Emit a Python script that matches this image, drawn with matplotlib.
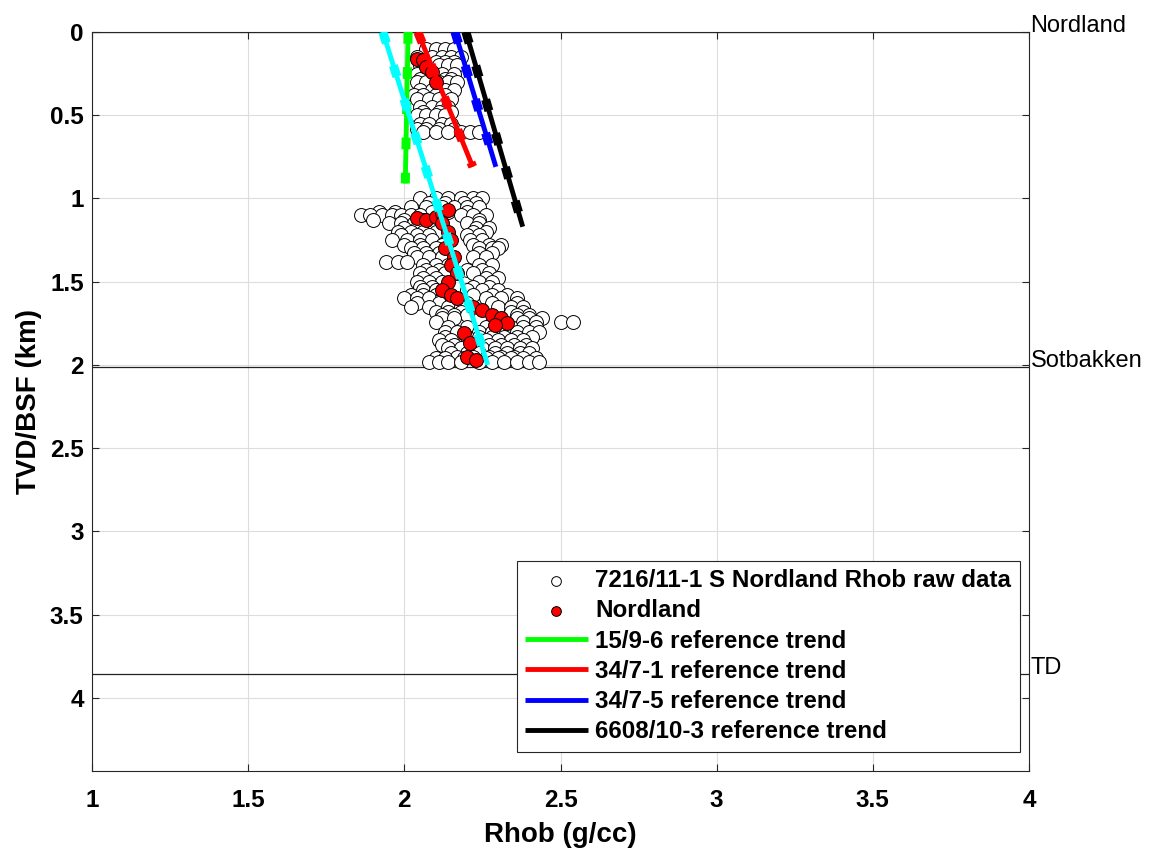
import matplotlib
matplotlib.use("Agg")
import matplotlib.pyplot as plt
from matplotlib.ticker import FuncFormatter, MultipleLocator

plt.rcParams["font.family"] = ["Liberation Sans", "DejaVu Sans"]

# 生データ (深度ごとの Rhob 読み取り値)
raw_rows = [
    (0.10, [2.07, 2.10, 2.13, 2.16]),
    (0.15, [2.04, 2.09, 2.12, 2.15, 2.18]),
    (0.18, [2.06, 2.10, 2.13, 2.16]),
    (0.20, [2.05, 2.11, 2.14, 2.17]),
    (0.25, [2.04, 2.08, 2.12, 2.16]),
    (0.28, [2.05, 2.09, 2.13, 2.15]),
    (0.30, [2.04, 2.07, 2.11, 2.14, 2.17]),
    (0.35, [2.05, 2.09, 2.13, 2.16]),
    (0.38, [2.03, 2.06, 2.10, 2.13]),
    (0.40, [2.04, 2.08, 2.11, 2.15]),
    (0.45, [2.05, 2.09, 2.12, 2.14]),
    (0.48, [2.06, 2.11, 2.15]),
    (0.50, [2.04, 2.07, 2.10, 2.13]),
    (0.55, [2.05, 2.08, 2.12, 2.15]),
    (0.58, [2.04, 2.07, 2.11, 2.16]),
    (0.60, [2.06, 2.10, 2.14, 2.18, 2.21, 2.24]),
    (1.00, [2.05, 2.10, 2.14, 2.18, 2.22, 2.25]),
    (1.03, [2.08, 2.13, 2.19, 2.23]),
    (1.05, [2.02, 2.07, 2.12, 2.16, 2.20, 2.24]),
    (1.08, [1.92, 1.97, 2.09, 2.14, 2.20]),
    (1.10, [1.86, 1.89, 1.93, 1.96, 1.99, 2.02, 2.05, 2.18, 2.22, 2.26]),
    (1.13, [1.90, 2.00, 2.06, 2.24]),
    (1.15, [1.95, 1.99, 2.03, 2.08, 2.20, 2.24]),
    (1.18, [2.00, 2.04, 2.09, 2.23, 2.27]),
    (1.20, [1.98, 2.02, 2.06, 2.10, 2.22, 2.26]),
    (1.22, [1.99, 2.04, 2.08, 2.20, 2.24]),
    (1.25, [1.96, 2.01, 2.05, 2.09, 2.14, 2.21, 2.25]),
    (1.28, [2.00, 2.05, 2.12, 2.22, 2.27, 2.31]),
    (1.30, [2.02, 2.06, 2.10, 2.24, 2.28, 2.30]),
    (1.33, [2.03, 2.07, 2.11, 2.24, 2.28]),
    (1.35, [2.04, 2.08, 2.12, 2.22, 2.26]),
    (1.38, [1.94, 1.98, 2.01]),
    (1.40, [2.06, 2.10, 2.14, 2.24, 2.28]),
    (1.43, [2.07, 2.11, 2.20, 2.25]),
    (1.45, [2.05, 2.09, 2.13, 2.22, 2.27]),
    (1.48, [2.06, 2.10, 2.26, 2.30]),
    (1.50, [2.04, 2.08, 2.12, 2.24, 2.28]),
    (1.53, [2.05, 2.09, 2.22, 2.27]),
    (1.55, [2.06, 2.10, 2.20, 2.25, 2.30]),
    (1.58, [2.02, 2.06, 2.10, 2.22, 2.28, 2.33]),
    (1.60, [2.00, 2.04, 2.08, 2.12, 2.26, 2.31, 2.36]),
    (1.63, [2.04, 2.11, 2.16, 2.20, 2.28, 2.36]),
    (1.65, [2.02, 2.08, 2.14, 2.18, 2.30, 2.34, 2.38]),
    (1.68, [2.10, 2.14, 2.18, 2.34, 2.38]),
    (1.70, [2.12, 2.16, 2.20, 2.36, 2.40]),
    (1.72, [2.12, 2.16, 2.36, 2.40, 2.44]),
    (1.74, [2.10, 2.38, 2.42, 2.50, 2.54]),
    (1.77, [2.14, 2.20, 2.26, 2.34, 2.38, 2.42]),
    (1.80, [2.13, 2.17, 2.24, 2.28, 2.32, 2.36, 2.40, 2.43]),
    (1.83, [2.13, 2.20, 2.24, 2.28, 2.32, 2.36, 2.41]),
    (1.85, [2.11, 2.15, 2.26, 2.30, 2.34, 2.38]),
    (1.88, [2.12, 2.16, 2.23, 2.27, 2.31, 2.35, 2.39]),
    (1.90, [2.14, 2.18, 2.25, 2.29, 2.33, 2.37, 2.41]),
    (1.93, [2.15, 2.20, 2.24, 2.29, 2.33, 2.37, 2.40]),
    (1.95, [2.17, 2.22, 2.27, 2.31, 2.35]),
    (1.96, [2.10, 2.13, 2.19, 2.26, 2.30, 2.34, 2.38, 2.42]),
    (1.98, [2.08, 2.11, 2.14, 2.18, 2.24, 2.28, 2.32, 2.36, 2.40, 2.43]),
]

# Nordland 区間の点
nordland_rhob = [2.04, 2.06, 2.07, 2.09, 2.10,
                 2.04, 2.07, 2.10, 2.12, 2.14,
                 2.12, 2.14, 2.15, 2.13, 2.16, 2.15, 2.17, 2.14, 2.12, 2.15, 2.17,
                 2.22, 2.25, 2.28, 2.31, 2.33, 2.29,
                 2.19, 2.21, 2.20, 2.23]
nordland_depth = [0.16, 0.17, 0.21, 0.24, 0.30,
                  1.12, 1.13, 1.11, 1.09, 1.07,
                  1.15, 1.20, 1.25, 1.30, 1.35, 1.40, 1.45, 1.50, 1.55, 1.58, 1.60,
                  1.65, 1.67, 1.70, 1.72, 1.75, 1.76,
                  1.81, 1.87, 1.95, 1.97]

# 参照トレンド (上端, 下端)
trend_names = ["15/9-6", "34/7-1", "34/7-5", "6608/10-3"]
trend_colors = ["#00ff00", "#ff0000", "#0000ff", "#000000"]
trend_rhob = [[2.012, 2.003], [2.043, 2.219], [2.162, 2.293], [2.197, 2.379]]
trend_depth = [[0.0, 0.91], [0.0, 0.81], [0.0, 0.81], [0.0, 1.17]]

# 本井戸のトレンド (凡例なし)
fit_rhob = [1.931, 2.267]
fit_depth = [0.0, 2.0]

# 地層境界
tops_names = ["Nordland", "Sotbakken", "TD"]
tops_depth = [0.0, 2.01, 3.856]

raw_rhob = [x for d, xs in raw_rows for x in xs]
raw_depth = [d for d, xs in raw_rows for x in xs]

fig = plt.figure(figsize=(11.52, 8.5), dpi=100)
ax = fig.add_axes([0.0799, 0.0929, 0.8133, 0.8695])

ax.scatter(raw_rhob, raw_depth, s=100, facecolor="white", edgecolor="black",
           linewidth=0.7, zorder=2, label="7216/11-1 S Nordland Rhob raw data")
ax.scatter(nordland_rhob, nordland_depth, s=100, facecolor="red",
           edgecolor="black", linewidth=0.7, zorder=3, label="Nordland")


def draw_trend(xs, ys, color, label=None):
    ax.plot(xs, ys, color=color, lw=3.5, zorder=4, label=label,
            solid_capstyle="butt")
    ax.plot(xs, ys, color=color, lw=6.5, zorder=4, linestyle=(0, (1.3, 2.6)),
            dash_capstyle="butt")


for name, c, xs, ys in zip(trend_names, trend_colors, trend_rhob, trend_depth):
    draw_trend(xs, ys, c, f"{name} reference trend")
draw_trend(fit_rhob, fit_depth, "#00ffff")

for name, d in zip(tops_names, tops_depth):
    ax.axhline(d, color="#222222", lw=0.9, zorder=1)
    ax.text(4.005, d, name, fontsize=17, va="baseline", ha="left",
            clip_on=False)

ax.set_xlim(1, 4)
ax.set_ylim(4.44, 0)
ax.xaxis.set_major_locator(MultipleLocator(0.5))
ax.yaxis.set_major_locator(MultipleLocator(0.5))
fmt = FuncFormatter(lambda v, p: f"{v:g}")
ax.xaxis.set_major_formatter(fmt)
ax.yaxis.set_major_formatter(fmt)
ax.grid(True, color="#dddddd", lw=0.8, zorder=0)
ax.set_axisbelow(True)
ax.tick_params(direction="in", length=5, width=0.8, colors="#262626",
               labelsize=17.5, top=True, right=True)
ax.tick_params(axis="x", pad=13)
ax.tick_params(axis="y", pad=6)
for lab in ax.get_xticklabels() + ax.get_yticklabels():
    lab.set_fontweight("bold")
    lab.set_color("black")
for sp in ax.spines.values():
    sp.set_color("#262626")
    sp.set_linewidth(0.8)

ax.set_xlabel("Rhob (g/cc)", fontsize=20, fontweight="bold", labelpad=7)
ax.set_ylabel("TVD/BSF (km)", fontsize=20, fontweight="bold", labelpad=6)

leg = ax.legend(loc="lower right", bbox_to_anchor=(0.990, 0.026),
                borderaxespad=0, prop={"weight": "bold", "size": 17.4},
                markerscale=0.7, handlelength=2.6, handletextpad=0.3,
                labelspacing=0.3, borderpad=0.35, fancybox=False,
                framealpha=1, edgecolor="#262626")
leg.get_frame().set_linewidth(0.8)

fig.savefig("out.png", dpi=100)
plt.close(fig)
